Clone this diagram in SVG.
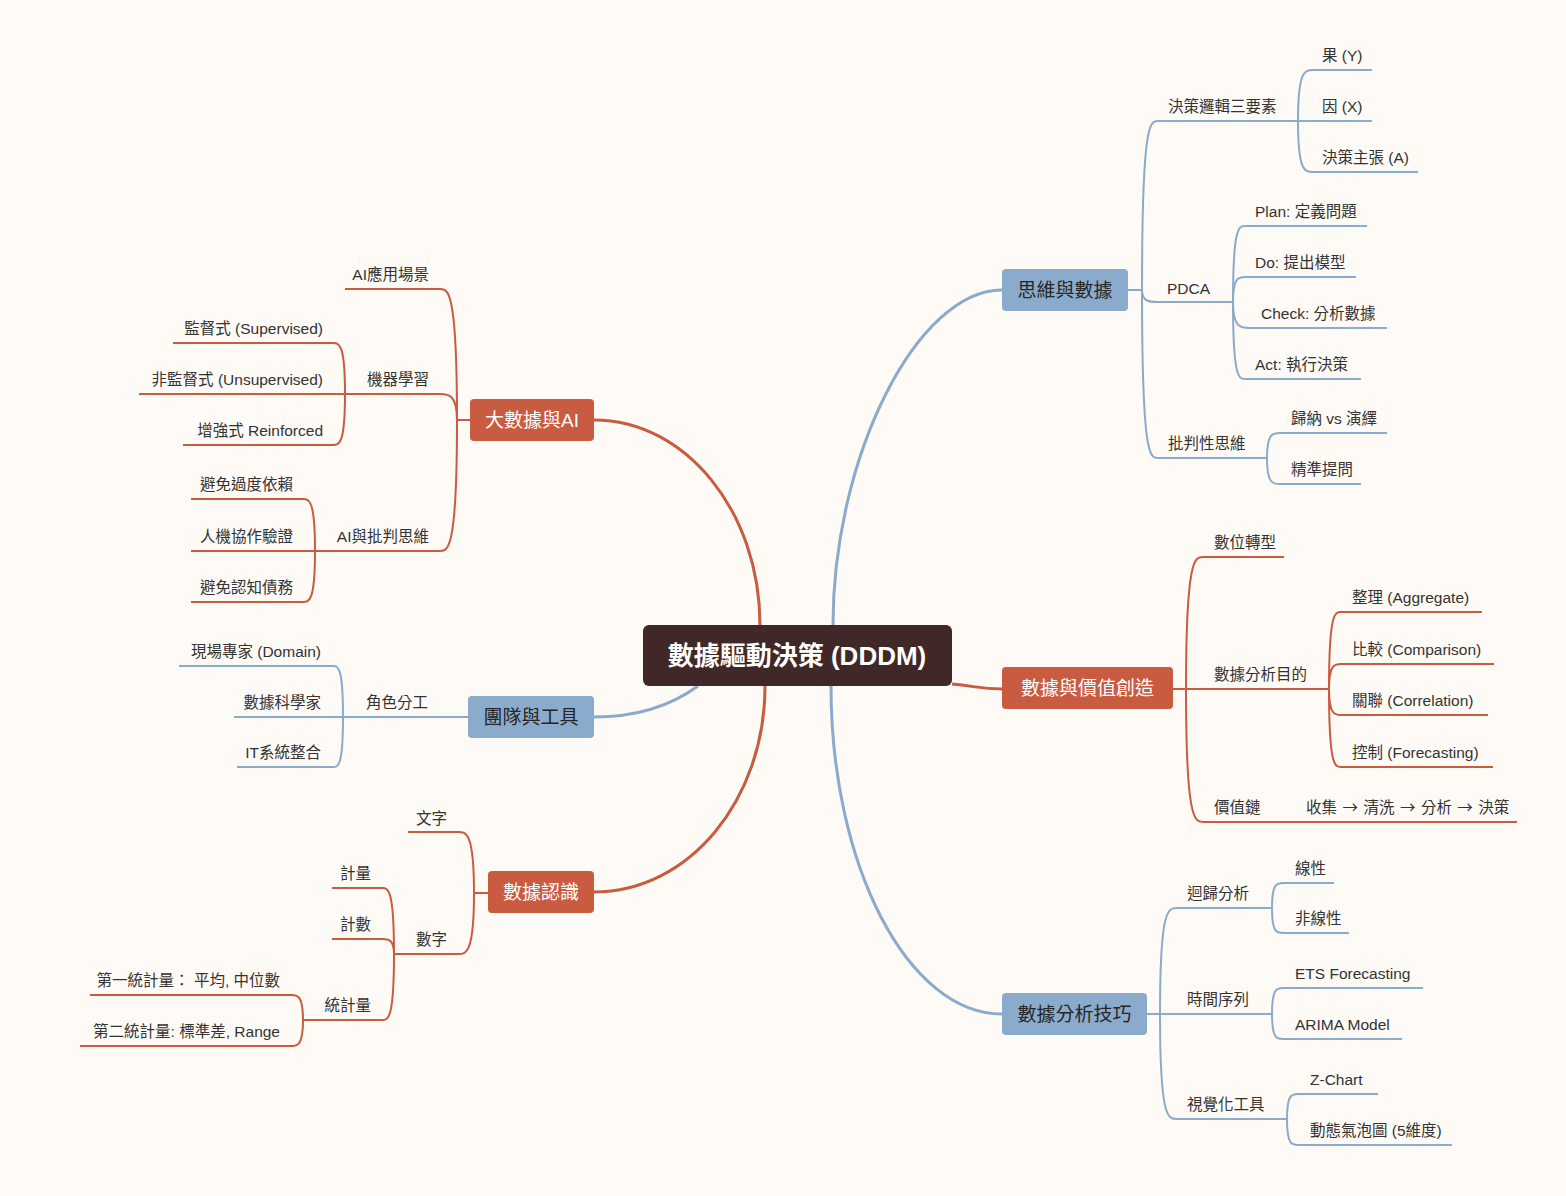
<svg xmlns="http://www.w3.org/2000/svg" width="1566" height="1196" viewBox="0 0 1566 1196">
<style>
text{font-family:"Liberation Sans","Noto Sans CJK TC",sans-serif;}
.t{font-size:15.5px;fill:#333;}
.cjk{font-family:"Noto Sans CJK TC","Liberation Sans",sans-serif;word-spacing:2px;}
.e{text-anchor:end;}
.m{font-size:19px;text-anchor:middle;}
.mw{fill:#ffffff;}
.md{fill:#262626;}
.b{fill:none;stroke:#8aabcb;}
.r{fill:none;stroke:#c95b40;}
.main{stroke-width:3;}
.sub{stroke-width:2;}
.nb{fill:#8aabcb;}
.nr{fill:#c95b40;}
</style>
<rect x="0" y="0" width="1566" height="1196" fill="#fefaf5"/>
<g id="connectors">
  <path class="r main" d="M760,625 C760,512 686,420 594,420"/>
  <path class="b main" d="M833,625 C833,457 917,290 1002,290"/>
  <path class="r main" d="M952,684 C975,686 980,689 1002,689"/>
  <path class="b main" d="M698,686 C672,705 640,717 594,717"/>
  <path class="r main" d="M765,686 C765,800 689,892 594,892"/>
  <path class="b main" d="M831,686 C831,866 908,1014 1002,1014"/>

  <g class="b sub">
    <path d="M1128,290 H1142"/>
    <path d="M1142,290 C1142,121 1150,121 1158,121 H1298"/>
    <path d="M1142,290 C1142,302 1150,302 1158,302 H1233"/>
    <path d="M1142,290 C1142,458 1150,458 1158,458 H1267"/>
    <path d="M1298,121 C1298,70 1305,70 1313,70 H1372"/>
    <path d="M1298,121 H1372"/>
    <path d="M1298,121 C1298,172 1305,172 1313,172 H1418"/>
    <path d="M1233,302 C1233,226 1239,226 1245,226 H1367"/>
    <path d="M1233,302 C1233,277 1239,277 1245,277 H1356"/>
    <path d="M1233,302 C1233,328 1241,328 1250,328 H1387"/>
    <path d="M1233,302 C1233,379 1239,379 1245,379 H1361"/>
    <path d="M1267,458 C1267,433 1273,433 1280,433 H1387"/>
    <path d="M1267,458 C1267,484 1273,484 1280,484 H1361"/>

    <path d="M468,717 H343"/>
    <path d="M343,717 C343,666 338,666 333,666 H179"/>
    <path d="M343,717 H234"/>
    <path d="M343,717 C343,767 338,767 333,767 H237"/>

    <path d="M1147,1014 H1160"/>
    <path d="M1160,1014 C1160,908 1168,908 1177,908 H1272"/>
    <path d="M1160,1014 H1272"/>
    <path d="M1160,1014 C1160,1119 1168,1119 1177,1119 H1287"/>
    <path d="M1272,908 C1272,883 1277,883 1283,883 H1334"/>
    <path d="M1272,908 C1272,933 1277,933 1283,933 H1349"/>
    <path d="M1272,1014 C1272,988 1277,988 1283,988 H1423"/>
    <path d="M1272,1014 C1272,1039 1277,1039 1283,1039 H1402"/>
    <path d="M1287,1119 C1287,1094 1292,1094 1298,1094 H1378"/>
    <path d="M1287,1119 C1287,1145 1292,1145 1298,1145 H1452"/>
  </g>
  <g class="r sub">
    <path d="M470,420 H457"/>
    <path d="M457,420 C457,289 448,289 440,289 H345"/>
    <path d="M457,420 C457,394 448,394 440,394 H345"/>
    <path d="M457,420 C457,551 448,551 440,551 H315"/>
    <path d="M345,394 C345,343 339,343 333,343 H173"/>
    <path d="M345,394 H139"/>
    <path d="M345,394 C345,445 339,445 333,445 H183"/>
    <path d="M315,551 C315,499 309,499 303,499 H191"/>
    <path d="M315,551 H191"/>
    <path d="M315,551 C315,602 309,602 303,602 H191"/>

    <path d="M488,893 H474"/>
    <path d="M474,893 C474,832 466,832 458,832 H408"/>
    <path d="M474,893 C474,954 466,954 458,954 H394"/>
    <path d="M394,954 C394,888 388,888 382,888 H332"/>
    <path d="M394,954 C394,939 388,939 382,939 H332"/>
    <path d="M394,954 C394,1020 388,1020 382,1020 H303"/>
    <path d="M303,1020 C303,995 297,995 292,995 H90"/>
    <path d="M303,1020 C303,1046 297,1046 292,1046 H80"/>

    <path d="M1173,689 H1186"/>
    <path d="M1186,689 C1186,557 1195,557 1203,557 H1284"/>
    <path d="M1186,689 H1329"/>
    <path d="M1186,689 C1186,822 1195,822 1203,822 H1517"/>
    <path d="M1329,689 C1329,612 1335,612 1341,612 H1482"/>
    <path d="M1329,689 C1329,664 1335,664 1341,664 H1494"/>
    <path d="M1329,689 C1329,715 1335,715 1341,715 H1488"/>
    <path d="M1329,689 C1329,767 1335,767 1341,767 H1493"/>
  </g>
</g>

<g id="root">
  <rect x="643" y="625" width="309" height="61" rx="6" fill="#402828"/>
  <text x="797" y="665" font-size="26" font-weight="bold" fill="#ffffff" text-anchor="middle">數據驅動決策 (DDDM)</text>
</g>

<g id="n-thinking">
  <rect class="nb" x="1002" y="269" width="126" height="42" rx="4"/>
  <text class="m md" x="1065" y="297">思維與數據</text>
</g>
<g id="n-bigdata">
  <rect class="nr" x="470" y="399" width="124" height="42" rx="4"/>
  <text class="m mw" x="532" y="427">大數據與AI</text>
</g>
<g id="n-value">
  <rect class="nr" x="1002" y="667" width="171" height="42" rx="4"/>
  <text class="m mw" x="1087.5" y="695">數據與價值創造</text>
</g>
<g id="n-team">
  <rect class="nb" x="468" y="696" width="126" height="42" rx="4"/>
  <text class="m md" x="531" y="724">團隊與工具</text>
</g>
<g id="n-cognition">
  <rect class="nr" x="488" y="871" width="106" height="42" rx="4"/>
  <text class="m mw" x="541" y="899">數據認識</text>
</g>
<g id="n-analysis">
  <rect class="nb" x="1002" y="993" width="145" height="42" rx="4"/>
  <text class="m md" x="1074.5" y="1021">數據分析技巧</text>
</g>

<g id="s-logic"><text class="t" x="1168" y="112">決策邏輯三要素</text></g>
<g id="s-y"><text class="t" x="1322" y="61">果 (Y)</text></g>
<g id="s-x"><text class="t" x="1322" y="112">因 (X)</text></g>
<g id="s-a"><text class="t" x="1322" y="163">決策主張 (A)</text></g>
<g id="s-pdca"><text class="t" x="1167" y="293.5">PDCA</text></g>
<g id="s-plan"><text class="t" x="1255" y="217">Plan: 定義問題</text></g>
<g id="s-do"><text class="t" x="1255" y="268">Do: 提出模型</text></g>
<g id="s-check"><text class="t" x="1261" y="319">Check: 分析數據</text></g>
<g id="s-act"><text class="t" x="1255" y="370">Act: 執行決策</text></g>
<g id="s-critical"><text class="t" x="1168" y="449">批判性思維</text></g>
<g id="s-induct"><text class="t" x="1291" y="424">歸納 vs 演繹</text></g>
<g id="s-ask"><text class="t" x="1291" y="475">精準提問</text></g>

<g id="s-digital"><text class="t" x="1214" y="548">數位轉型</text></g>
<g id="s-purpose"><text class="t" x="1214" y="680">數據分析目的</text></g>
<g id="s-chain"><text class="t" x="1214" y="813">價值鏈</text></g>
<g id="s-chain-steps"><text class="t cjk" x="1306" y="813">收集 → 清洗 → 分析 → 決策</text></g>
<g id="s-aggregate"><text class="t" x="1352" y="603">整理 (Aggregate)</text></g>
<g id="s-compare"><text class="t" x="1352" y="655">比較 (Comparison)</text></g>
<g id="s-correl"><text class="t" x="1352" y="706">關聯 (Correlation)</text></g>
<g id="s-control"><text class="t" x="1352" y="758">控制 (Forecasting)</text></g>

<g id="s-regress"><text class="t" x="1187" y="899">迴歸分析</text></g>
<g id="s-timeseries"><text class="t" x="1187" y="1005">時間序列</text></g>
<g id="s-visual"><text class="t" x="1187" y="1110">視覺化工具</text></g>
<g id="s-linear"><text class="t" x="1295" y="874">線性</text></g>
<g id="s-nonlinear"><text class="t" x="1295" y="924">非線性</text></g>
<g id="s-ets"><text class="t" x="1295" y="979">ETS Forecasting</text></g>
<g id="s-arima"><text class="t" x="1295" y="1030">ARIMA Model</text></g>
<g id="s-zchart"><text class="t" x="1310" y="1085">Z-Chart</text></g>
<g id="s-bubble"><text class="t" x="1310" y="1136">動態氣泡圖 (5維度)</text></g>

<g id="s-aiscene"><text class="t e" x="429" y="280">AI應用場景</text></g>
<g id="s-ml"><text class="t e" x="429" y="385">機器學習</text></g>
<g id="s-aicrit"><text class="t e" x="429" y="542">AI與批判思維</text></g>
<g id="s-sup"><text class="t e" x="323" y="334">監督式 (Supervised)</text></g>
<g id="s-unsup"><text class="t e" x="323" y="385">非監督式 (Unsupervised)</text></g>
<g id="s-reinf"><text class="t e" x="323" y="436">增強式 Reinforced</text></g>
<g id="s-avoid"><text class="t e" x="293" y="490">避免過度依賴</text></g>
<g id="s-human"><text class="t e" x="293" y="542">人機協作驗證</text></g>
<g id="s-debt"><text class="t e" x="293" y="593">避免認知債務</text></g>

<g id="s-roles"><text class="t e" x="428" y="708">角色分工</text></g>
<g id="s-domain"><text class="t e" x="321" y="657">現場專家 (Domain)</text></g>
<g id="s-scientist"><text class="t e" x="321" y="708">數據科學家</text></g>
<g id="s-it"><text class="t e" x="321" y="758">IT系統整合</text></g>

<g id="s-text"><text class="t e" x="447" y="823.5">文字</text></g>
<g id="s-number"><text class="t e" x="447" y="945">數字</text></g>
<g id="s-measure"><text class="t e" x="371" y="879">計量</text></g>
<g id="s-count"><text class="t e" x="371" y="930">計數</text></g>
<g id="s-stat"><text class="t e" x="371" y="1011">統計量</text></g>
<g id="s-stat1"><text class="t e" x="280" y="986">第一統計量： 平均, 中位數</text></g>
<g id="s-stat2"><text class="t e" x="280" y="1037">第二統計量: 標準差, Range</text></g>
</svg>
